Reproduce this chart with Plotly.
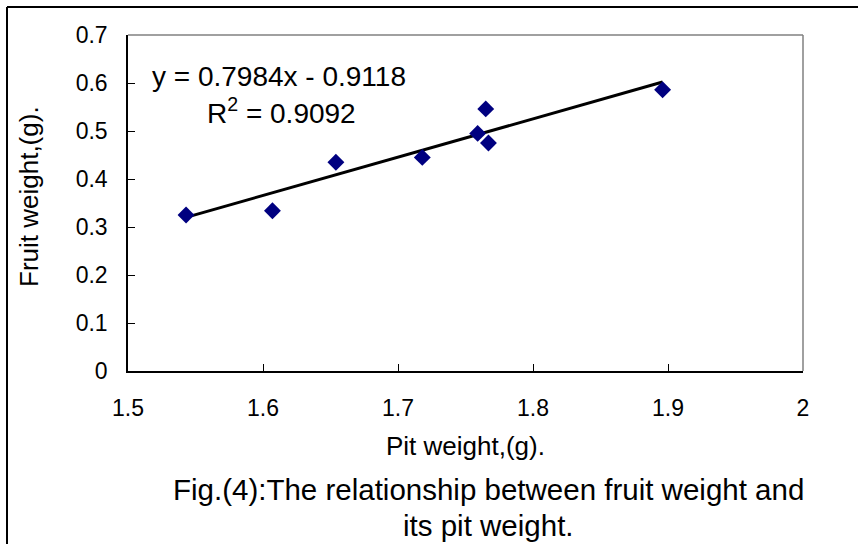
import plotly.graph_objects as go

# Data
pit_weight = [1.543, 1.607, 1.654, 1.718, 1.759, 1.765, 1.767, 1.896]
fruit_weight = [0.325, 0.334, 0.435, 0.445, 0.495, 0.546, 0.475, 0.586]
slope = 0.7984
intercept = -0.9118
r2 = 0.9092
x_ticks = [1.5, 1.6, 1.7, 1.8, 1.9, 2.0]
x_tick_text = ["1.5", "1.6", "1.7", "1.8", "1.9", "2"]
y_ticks = [0, 0.1, 0.2, 0.3, 0.4, 0.5, 0.6, 0.7]
y_tick_text = ["0", "0.1", "0.2", "0.3", "0.4", "0.5", "0.6", "0.7"]

W, H = 858, 544
L, R, T, B = 128, 55, 35, 173
pw, ph = W - L - R, H - T - B

def px(xp):
    return (xp - L) / pw

def py(yp):
    return (H - B - yp) / ph

FONT = "Liberation Sans"

x_fit = [min(pit_weight), max(pit_weight)]
y_fit = [slope * v + intercept for v in x_fit]

fig = go.Figure()
fig.add_trace(go.Scatter(x=x_fit, y=y_fit, mode="lines",
                         line=dict(color="black", width=3), showlegend=False))
fig.add_trace(go.Scatter(x=pit_weight, y=fruit_weight, mode="markers",
                         marker=dict(symbol="diamond", size=13, color="#000080"),
                         showlegend=False))

tick_font = dict(size=23, family=FONT, color="black")

fig.update_layout(
    width=W, height=H,
    margin=dict(l=L, r=R, t=T, b=B),
    paper_bgcolor="white", plot_bgcolor="white",
    font=dict(family=FONT, color="black", size=23),
    xaxis=dict(range=[1.5, 2.0], tickmode="array", tickvals=x_ticks, ticktext=x_tick_text,
               showgrid=False, zeroline=False, showline=True, linecolor="black",
               linewidth=1.5, ticks="inside", ticklen=7, tickcolor="black",
               tickfont=tick_font, ticklabelstandoff=16),
    yaxis=dict(range=[0, 0.7], tickmode="array", tickvals=y_ticks, ticktext=y_tick_text,
               showgrid=False, zeroline=False, showline=True, linecolor="black",
               linewidth=1.5, ticks="inside", ticklen=7, tickcolor="black",
               tickfont=tick_font, ticklabelstandoff=14),
    shapes=[
        dict(type="line", xref="paper", yref="paper", x0=0, x1=1, y0=1, y1=1,
             line=dict(color="#808080", width=1.5)),
        dict(type="line", xref="paper", yref="paper", x0=1, x1=1, y0=0, y1=1,
             line=dict(color="#808080", width=1.5)),
        dict(type="line", xref="paper", yref="paper", x0=px(7), x1=px(W), y0=py(7), y1=py(7),
             line=dict(color="black", width=2)),
        dict(type="line", xref="paper", yref="paper", x0=px(7), x1=px(7), y0=py(7), y1=py(H),
             line=dict(color="black", width=2)),
    ],
    annotations=[
        dict(text=f"y = {slope}x - {abs(intercept)}", xref="paper", yref="paper",
             x=px(279), y=py(76), xanchor="center", yanchor="middle", showarrow=False,
             font=dict(size=28, family=FONT)),
        dict(text=f"R<sup>2</sup> = {r2}", xref="paper", yref="paper",
             x=px(281), y=py(111), xanchor="center", yanchor="middle", showarrow=False,
             font=dict(size=28, family=FONT)),
        dict(text="Pit weight,(g).", xref="paper", yref="paper",
             x=px(465), y=py(446), xanchor="center", yanchor="middle", showarrow=False,
             font=dict(size=26, family=FONT)),
        dict(text="Fruit weight,(g).", xref="paper", yref="paper",
             x=px(29), y=py(197), xanchor="center", yanchor="middle", showarrow=False,
             textangle=-90, font=dict(size=26, family=FONT)),
        dict(text="Fig.(4):The relationship between fruit weight and", xref="paper", yref="paper",
             x=px(488), y=py(489), xanchor="center", yanchor="middle", showarrow=False,
             font=dict(size=29.5, family=FONT)),
        dict(text="its pit weight.", xref="paper", yref="paper",
             x=px(488), y=py(525), xanchor="center", yanchor="middle", showarrow=False,
             font=dict(size=29.5, family=FONT)),
    ],
)

fig.write_html("out.html")
